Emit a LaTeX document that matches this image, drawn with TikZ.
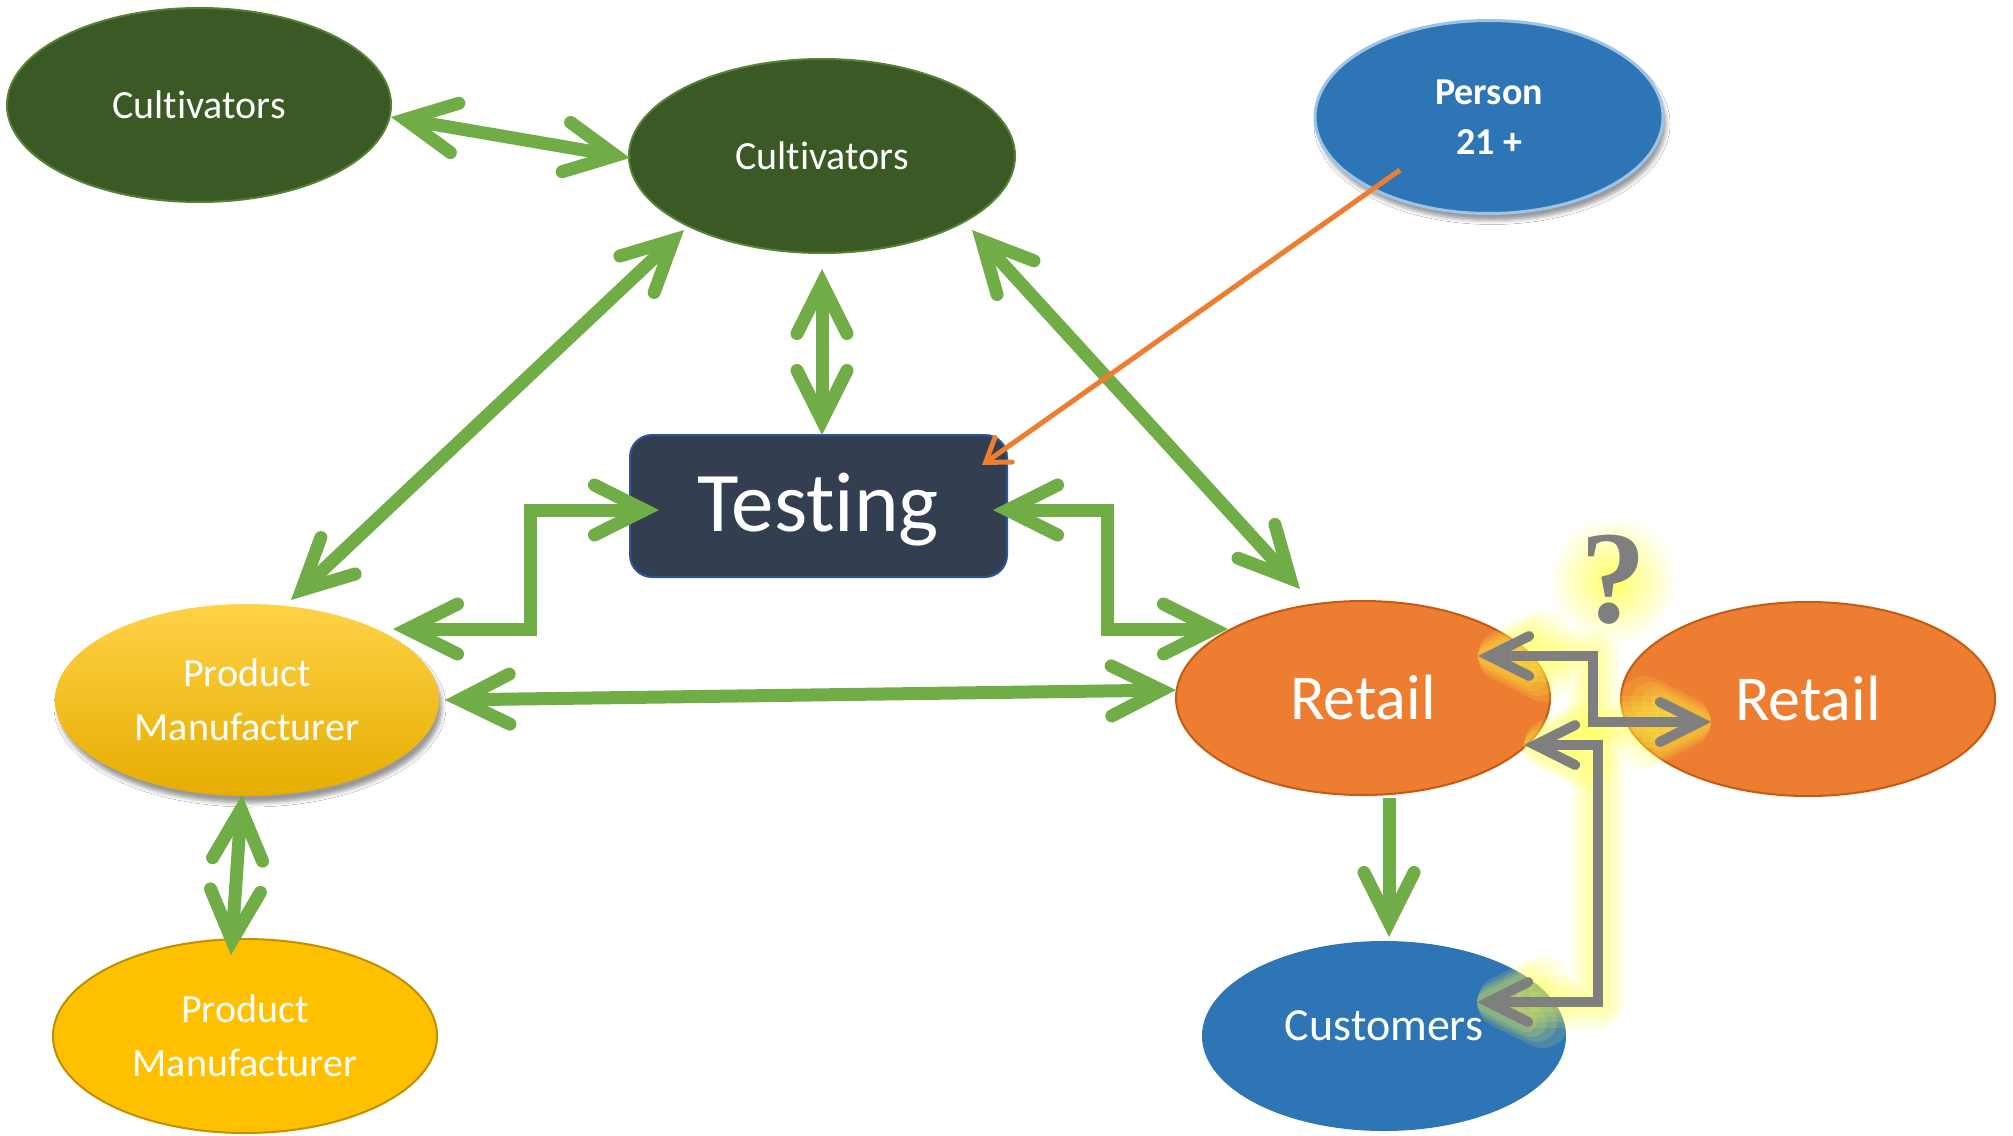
\documentclass[tikz,border=0pt]{standalone}
\usepackage{fontspec}
\setmainfont{Carlito}[Ligatures={CommonOff}]
\newfontfamily\qfont{Liberation Serif}
\usetikzlibrary{arrows.meta,shapes.geometric,shadows.blur,fadings,calc}
\definecolor{cgreen}{RGB}{59,89,36}
\definecolor{cgreenb}{RGB}{84,130,53}
\definecolor{agreen}{RGB}{112,173,71}
\definecolor{navy}{RGB}{51,63,80}
\definecolor{navyb}{RGB}{47,85,151}
\definecolor{pblue}{RGB}{46,117,182}
\definecolor{pblueb}{RGB}{157,195,230}
\definecolor{gold}{RGB}{255,192,0}
\definecolor{goldb}{RGB}{191,144,0}
\definecolor{retail}{RGB}{237,125,49}
\definecolor{retailb}{RGB}{197,90,17}
\definecolor{agray}{RGB}{127,127,127}
\definecolor{glowy}{RGB}{255,255,70}
\tikzfading[name=glowfade, inner color=transparent!15, outer color=transparent!100]
\tikzset{
  gtip/.tip={Straight Barb[length=50pt,width=50pt,line cap=round,line join=miter]},
  ytip/.tip={Straight Barb[length=40pt,width=40pt,line cap=round,line join=miter]},
  ygtip/.tip={Straight Barb[length=40pt,width=40pt,round]},
  otip/.tip={Straight Barb[length=22pt,width=30pt,line cap=round,line join=miter]},
}
\begin{document}
\begin{tikzpicture}[x=1pt,y=-1pt,
  oval/.style={ellipse, inner sep=0pt, text=white, align=center},
  lbl/.style={font=\fontsize{40}{54}\selectfont},
  gline/.style={draw=agreen, line width=13pt},
  gboth/.style={gline, gtip-gtip},
  gone/.style={gline, -gtip},
  grayline/.style={draw=agray, line width=10pt, ytip-ytip},
  glowline/.style={draw=glowy, line width=#1, opacity=0.14, ygtip-ygtip, line join=round},
  oline/.style={draw=retail, line width=5pt, -otip},
  shad/.style={blur shadow={shadow xshift=3pt, shadow yshift=-7pt, shadow blur radius=4pt, shadow blur extra rounding=0pt, shadow opacity=40}},
]
\fill[white] (0,0) rectangle (2013,1135);
\useasboundingbox (0,0) rectangle (2013,1135);

% nodes
\node[oval, minimum width=384pt, minimum height=194pt, fill=cgreen, draw=cgreenb, line width=2pt, lbl] (cultL) at (199,105) {Cultivators};
\node[oval, minimum width=386pt, minimum height=194pt, fill=cgreen, draw=cgreenb, line width=2pt, lbl] (cultM) at (822,156) {Cultivators};
\node[oval, minimum width=348pt, minimum height=193pt, fill=pblue, draw=pblueb, line width=3pt, shad, font=\bfseries\fontsize{38}{50}\selectfont] (person) at (1489,117) {Person\\21 +};
\node[draw=navyb, fill=navy, rounded corners=22pt, minimum width=377pt, minimum height=142pt, line width=2pt, text=white, text height=68pt, text depth=18pt, font=\fontsize{85}{85}\selectfont] (testing) at (818.5,506) {Testing};
\node[oval, minimum width=384pt, minimum height=192pt, top color=gold!72!white, middle color=gold, bottom color=gold!90!black, shad, lbl] (pm1) at (247,700) {Product\\Manufacturer};
\node[oval, minimum width=384pt, minimum height=194pt, fill=gold, draw=goldb, line width=2pt, lbl] (pm2) at (245,1036) {Product\\Manufacturer};
\node[oval, minimum width=374pt, minimum height=194pt, fill=retail, draw=retailb, line width=2pt, font=\fontsize{64}{64}\selectfont] (retL) at (1363,698) {Retail};
\node[oval, minimum width=374pt, minimum height=194pt, fill=retail, draw=retailb, line width=2pt, font=\fontsize{64}{64}\selectfont] (retR) at (1808,699) {Retail};
\node[oval, minimum width=364pt, minimum height=190pt, fill=pblue] (cust) at (1384,1036) {};
\node[text=white, font=\fontsize{46}{46}\selectfont] (custT) at ($(cust)+(0,-10)$) {Customers};

% connector end points
\coordinate (a1) at ($(cultL)+(192,12)$);
\coordinate (b1) at ($(cultM)+(-192,2)$);
\coordinate (a2) at ($(cultM)+(0,113)$);
\coordinate (b2) at ($(testing)+(3.5,-71)$);
\coordinate (a3) at ($(cultM)+(-138,74)$);
\coordinate (b3) at ($(pm1)+(44,-100)$);
\coordinate (a4) at ($(cultM)+(150,74)$);
\coordinate (b4) at ($(retL)+(-63,-109)$);
\coordinate (a5) at ($(testing)+(-159.5,4)$);
\coordinate (c5) at ($(pm1)+(283,-71)$);
\coordinate (b5) at ($(pm1)+(146,-71)$);
\coordinate (a6) at ($(testing)+(174.5,4)$);
\coordinate (c6) at ($(retL)+(-256,-69)$);
\coordinate (b6) at ($(retL)+(-135,-69)$);
\coordinate (a7) at ($(pm1)+(198,0)$);
\coordinate (b7) at ($(retL)+(-187,-8)$);
\coordinate (a8) at ($(pm1)+(-5,95)$);
\coordinate (b8) at ($(pm2)+(-14,-81)$);
\coordinate (a9) at ($(retL)+(26,100)$);
\coordinate (b9) at ($(cust)+(5,-99)$);
\coordinate (ga1) at ($(retL)+(115,-42)$);
\coordinate (gc1) at ($(retR)+(-215,23)$);
\coordinate (gb1) at ($(retR)+(-97,23)$);
\coordinate (ga2) at ($(retL)+(161,47)$);
\coordinate (gc2) at ($(cust)+(214,-34)$);
\coordinate (gb2) at ($(cust)+(93,-34)$);
\coordinate (oa) at ($(person)+(-89,53)$);
\coordinate (ob) at ($(testing)+(163.5,-41)$);
\coordinate (qc) at (1613,580);

% green connectors
\draw[gboth] (a1) -- (b1);
\draw[gboth] (a2) -- (b2);
\draw[gboth] (a3) -- (b3);
\draw[gboth] (a4) -- (b4);
\draw[gboth] (a5) -| (c5) -- (b5);
\draw[gboth] (a6) -| (c6) -- (b6);
\draw[gboth] (a7) -- (b7);
\draw[gboth] (a8) -- (b8);
\draw[gone] (a9) -- (b9);

% orange connector
\draw[oline] (oa) -- (ob);

% glow
\fill[glowy, path fading=glowfade] (qc) circle [radius=64];
\foreach \w in {52pt,40pt,30pt,20pt} {
  \draw[glowline=\w] (ga1) -| (gc1) -- (gb1);
  \draw[glowline=\w] (ga2) -| (gc2) -- (gb2);
}
% gray connectors
\draw[grayline] (ga1) -| (gc1) -- (gb1);
\draw[grayline] (ga2) -| (gc2) -- (gb2);

\node[text=agray, font=\qfont\bfseries\fontsize{132}{132}\selectfont, inner sep=0pt] (q) at (qc) {?};
\end{tikzpicture}
\end{document}
